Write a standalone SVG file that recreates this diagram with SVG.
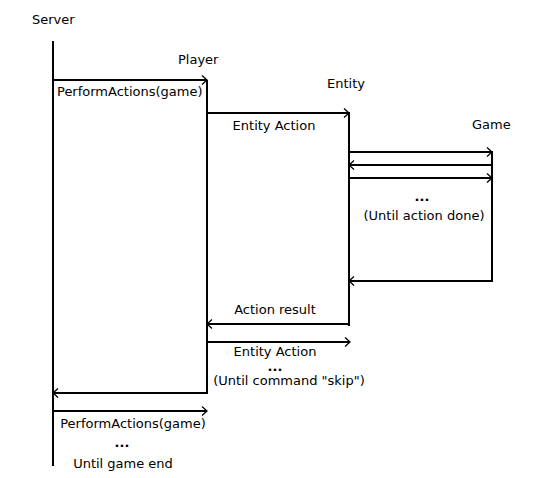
<svg xmlns="http://www.w3.org/2000/svg" width="535" height="478" viewBox="0 0 535 478">
<style>
.t{font-family:"DejaVu Sans","Liberation Sans",sans-serif;font-size:13px;fill:#000}
.c{text-anchor:middle}
.d{font-family:"DejaVu Sans",sans-serif;font-size:13px;font-weight:bold;text-anchor:middle}
.l{stroke:#000;stroke-width:2;fill:none}
.a{stroke:#000;stroke-width:2;fill:none;marker-end:url(#ah)}
</style>
<defs>
<marker id="ah" markerUnits="userSpaceOnUse" markerWidth="10" markerHeight="12" refX="6" refY="5" orient="auto">
<path d="M1,0.5 L6,5 L1,9.5" fill="none" stroke="#000" stroke-width="1.3"/>
</marker>
</defs>
<rect width="535" height="478" fill="#fff"/>
<g id="server"><text class="t" x="32" y="24">Server</text><line class="l" x1="53" y1="41" x2="53" y2="466"/></g>
<g id="player"><text class="t" x="178" y="64">Player</text><line class="l" x1="207" y1="80" x2="207" y2="394"/></g>
<g id="entity"><text class="t" x="327" y="88">Entity</text><line class="l" x1="349" y1="112" x2="349" y2="326"/></g>
<g id="game"><text class="t" x="472" y="129">Game</text><line class="l" x1="492" y1="151" x2="492" y2="282"/></g>
<g id="connectors">
<line class="a" x1="54" y1="80" x2="207" y2="80"/>
<line class="a" x1="207" y1="113" x2="349" y2="113"/>
<line class="a" x1="349" y1="152" x2="492" y2="152"/>
<line class="a" x1="492" y1="165" x2="349" y2="165"/>
<line class="a" x1="349" y1="178" x2="492" y2="178"/>
<line class="a" x1="492" y1="281" x2="349" y2="281"/>
<line class="a" x1="349" y1="324" x2="207" y2="324"/>
<line class="a" x1="207" y1="342" x2="350" y2="342"/>
<line class="a" x1="207" y1="393" x2="53" y2="393"/>
<line class="a" x1="53" y1="411" x2="207" y2="411"/>
</g>
<g id="labels">
<text class="t" x="57" y="96">PerformActions(game)</text>
<text class="t c" x="274" y="130">Entity Action</text>
<text class="d" x="422" y="201">...</text>
<text class="t c" x="424" y="220">(Until action done)</text>
<text class="t c" x="275" y="314">Action result</text>
<text class="t c" x="275" y="356">Entity Action</text>
<text class="d" x="275" y="371">...</text>
<text class="t c" x="289" y="385">(Until command "skip")</text>
<text class="t c" x="133" y="428">PerformActions(game)</text>
<text class="d" x="122" y="447">...</text>
<text class="t c" x="123" y="468">Until game end</text>
</g>
</svg>
